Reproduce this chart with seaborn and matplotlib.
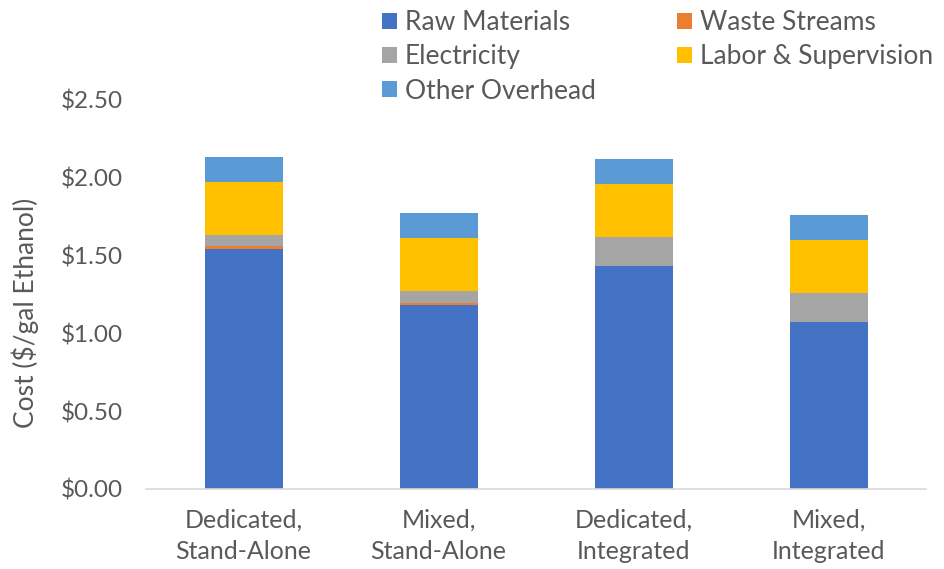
import matplotlib
matplotlib.use("Agg")
import matplotlib.pyplot as plt
import seaborn as sns
import pandas as pd
import numpy as np
from matplotlib.ticker import FuncFormatter

# Per-gallon production cost breakdown for each plant configuration
scenarios = ["Dedicated,\nStand-Alone", "Mixed,\nStand-Alone",
             "Dedicated,\nIntegrated", "Mixed,\nIntegrated"]
raw_materials = [1.54, 1.18, 1.43, 1.07]
waste_streams = [0.02, 0.015, 0.0, 0.0]
electricity = [0.075, 0.08, 0.19, 0.19]
labor_supervision = [0.34, 0.34, 0.34, 0.34]
other_overhead = [0.16, 0.16, 0.16, 0.16]

components = ["Raw Materials", "Waste Streams", "Electricity",
              "Labor & Supervision", "Other Overhead"]
colors = ["#4472C4", "#ED7D31", "#A5A5A5", "#FFC000", "#5B9BD5"]
yticks = [0.0, 0.5, 1.0, 1.5, 2.0, 2.5]

df = pd.DataFrame({
    "Scenario": scenarios,
    "Raw Materials": raw_materials,
    "Waste Streams": waste_streams,
    "Electricity": electricity,
    "Labor & Supervision": labor_supervision,
    "Other Overhead": other_overhead,
})

sns.set_theme(style="white")
plt.rcParams["font.family"] = ["Lato", "DejaVu Sans"]
text_color = "#595959"

fig = plt.figure(figsize=(9.45, 5.69), dpi=100)
ax = fig.add_axes([0.1545, 0.1406, 0.8255, 0.6837])

bottom = np.zeros(len(scenarios))
for comp, col in zip(components, colors):
    sns.barplot(data=df, x="Scenario", y=comp, bottom=bottom, color=col,
                width=0.4, errorbar=None, saturation=1, ax=ax, label=comp,
                linewidth=0)
    bottom = bottom + df[comp].to_numpy()

h, l = ax.get_legend_handles_labels()
if ax.get_legend() is not None:
    ax.get_legend().remove()

ax.set_xlim(-0.5, 3.5)
ax.set_ylim(0, 2.5)
ax.set_yticks(yticks)
ax.yaxis.set_major_formatter(FuncFormatter(lambda v, _: f"${v:.2f}"))
ax.set_xlabel("")
ax.set_ylabel("Cost ($/gal Ethanol)", fontsize=19, color=text_color)
ax.yaxis.set_label_coords(-0.137, 0.452)

for side in ["top", "right", "left"]:
    ax.spines[side].set_visible(False)
ax.spines["bottom"].set_color("#D9D9D9")
ax.spines["bottom"].set_linewidth(1.2)
ax.tick_params(axis="both", length=0, labelcolor=text_color)
ax.tick_params(axis="y", pad=17, labelsize=17.5)
ax.tick_params(axis="x", pad=14, labelsize=18)
for lbl in ax.get_xticklabels():
    lbl.set_linespacing(1.45)

# Legend: two columns, filled row by row
lookup = dict(zip(l, h))
order = ["Raw Materials", "Electricity", "Other Overhead",
         "Waste Streams", "Labor & Supervision"]
fig.legend([lookup[k] for k in order], order, ncol=2, frameon=False,
           loc="upper left", bbox_to_anchor=(0.387, 1.01),
           fontsize=19, labelcolor=text_color,
           handlelength=0.57, handleheight=0.57, handletextpad=0.3,
           columnspacing=3.1, labelspacing=0.35, borderaxespad=0.2)

fig.savefig("out.png", dpi=100)
